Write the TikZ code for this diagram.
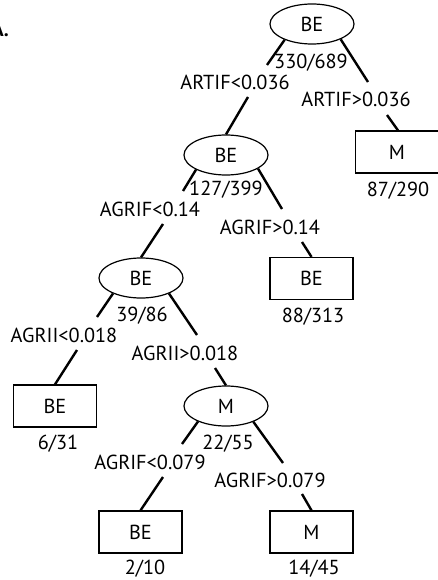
\documentclass[tikz,border=0pt]{standalone}
\usepackage{fontspec}
\setmainfont{PT Sans}
\usetikzlibrary{shapes.geometric}
\begin{document}
\begin{tikzpicture}[x=1pt,y=-1pt,
  txt/.style={inner sep=0pt,font=\fontsize{20.3}{22}\selectfont,text height=14pt,text depth=0pt},
  oval/.style={draw,ellipse,line width=1.2pt,minimum width=84pt,minimum height=40pt,inner sep=0pt,font=\fontsize{20.3}{22}\selectfont},
  leaf/.style={draw,rectangle,line width=1.2pt,minimum width=83pt,minimum height=42pt,inner sep=0pt,font=\fontsize{20.3}{22}\selectfont},
  edge/.style={line width=2.4pt}]
\useasboundingbox (0,0) rectangle (437,580);
\node[txt,anchor=base east,font=\bfseries\fontsize{20}{22}\selectfont] (lab) at (9,37) {A.};
% nodes
\node[oval] (E1) at (312,24) {BE};
\node[leaf] (B1) at (397,152) {M};
\node[oval] (E2) at (226,155) {BE};
\node[leaf] (B2) at (311.5,278.5) {BE};
\node[oval] (E3) at (141,278) {BE};
\node[leaf] (B3) at (55,406) {BE};
\node[oval] (E4) at (226,406) {M};
\node[leaf] (B4) at (140.5,532) {BE};
\node[leaf] (B5) at (311.5,532) {M};
% labels
\node[txt] (n1) at (311,62) {330/689};
\node[txt] (l1) at (235,83) {ARTIF<0.036};
\node[txt] (r1) at (356,100) {ARTIF>0.036};
\node[txt] (n2) at (398,189) {87/290};
\node[txt] (n3) at (226,188) {127/399};
\node[txt] (l2) at (150,209) {AGRIF<0.14};
\node[txt] (r2) at (270,227) {AGRIF>0.14};
\node[txt] (n4) at (313,315) {88/313};
\node[txt] (n5) at (142,314) {39/86};
\node[txt] (l3) at (64,335) {AGRII<0.018};
\node[txt] (r3) at (185,353) {AGRII>0.018};
\node[txt] (n6) at (58,442) {6/31};
\node[txt] (n7) at (228,442) {22/55};
\node[txt] (l4) at (150,462) {AGRIF<0.079};
\node[txt] (r4) at (270,480) {AGRIF>0.079};
\node[txt] (n8) at (145,567) {2/10};
\node[txt] (n9) at (314,567) {14/45};
% gap coordinates
\coordinate (a1) at (267,65);  \coordinate (a2) at (248,97);
\coordinate (b1) at (368,82);  \coordinate (b2) at (387,115);
\coordinate (c1) at (183,191); \coordinate (c2) at (163,224);
\coordinate (d1) at (282,209); \coordinate (d2) at (302,242);
\coordinate (e1) at (97,317);  \coordinate (e2) at (77,350);
\coordinate (f1) at (197,335); \coordinate (f2) at (215,368);
\coordinate (g1) at (182,444); \coordinate (g2) at (163,477);
\coordinate (h1) at (283,463); \coordinate (h2) at (302,494);
% connectors
\draw[edge] (E1.210) -- (a1); \draw[edge] (a2) -- (E2.north);
\draw[edge] (E1.332) -- (b1); \draw[edge] (b2) -- ([xshift=1pt]B1.north);
\draw[edge] (E2.206) -- (c1); \draw[edge] (c2) -- (E3.north);
\draw[edge] (E2.337) -- (d1); \draw[edge] (d2) -- (B2.north);
\draw[edge] (E3.209) -- (e1); \draw[edge] (e2) -- (B3.north);
\draw[edge] (E3.331) -- (f1); \draw[edge] (f2) -- (E4.north);
\draw[edge] (E4.209) -- (g1); \draw[edge] (g2) -- (B4.north);
\draw[edge] (E4.330) -- (h1); \draw[edge] (h2) -- (B5.north);
\end{tikzpicture}
\end{document}
